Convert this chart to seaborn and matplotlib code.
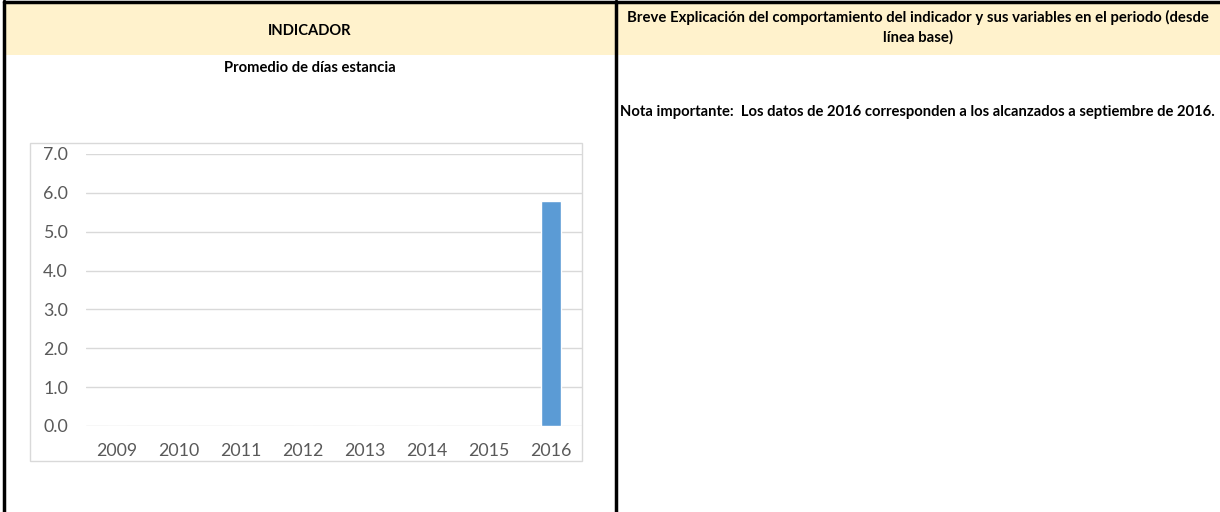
import pandas as pd
import seaborn as sns
import matplotlib.pyplot as plt
from matplotlib.patches import Rectangle
from matplotlib.lines import Line2D

years = ["2009", "2010", "2011", "2012", "2013", "2014", "2015", "2016"]
promedio_dias = [0, 0, 0, 0, 0, 0, 0, 5.8]
y_ticks = [0, 1, 2, 3, 4, 5, 6, 7]

header_left = "INDICADOR"
header_right = ("Breve Explicación del comportamiento del indicador y sus variables en el periodo (desde\n"
                "línea base)")
chart_title = "Promedio de días estancia"
nota = "Nota importante:  Los datos de 2016 corresponden a los alcanzados a septiembre de 2016."

df = pd.DataFrame({"anio": years, "valor": promedio_dias})

sns.set_theme(style="white")
plt.rcParams["font.family"] = ["Lato", "DejaVu Sans"]

W, H = 1220, 512
fig = plt.figure(figsize=(W / 100, H / 100), dpi=100)
fig.patch.set_facecolor("white")


def px(x, y):
    return x / W, 1 - y / H


# header band
fig.patches.append(Rectangle(px(4, 55), (1220 - 4) / W, 53 / H, transform=fig.transFigure,
                             facecolor="#FFF2CC", edgecolor="none", zorder=0))
# sheet borders
fig.lines.append(Line2D([4 / W, 1], [1 - 2 / H, 1 - 2 / H], transform=fig.transFigure, color="black", lw=2.5))
fig.lines.append(Line2D([4 / W, 4 / W], [0, 1 - 1 / H], transform=fig.transFigure, color="black", lw=2.5))
fig.lines.append(Line2D([616 / W, 616 / W], [0, 1 - 1 / H], transform=fig.transFigure, color="black", lw=2.5))

# chart area border
fig.patches.append(Rectangle(px(30, 461), (582 - 30) / W, (461 - 143) / H, transform=fig.transFigure,
                             facecolor="none", edgecolor="#D9D9D9", lw=1.0, zorder=1))

fig.text(310 / W, 1 - 31 / H, header_left, ha="center", va="center", fontsize=10.6, fontweight="bold", color="black")
fig.text(918 / W, 1 - 27 / H, header_right, ha="center", va="center", fontsize=10.7, fontweight="bold",
         color="black", linespacing=1.45)
fig.text(310 / W, 1 - 68 / H, chart_title, ha="center", va="center", fontsize=10.6, fontweight="bold", color="black")
fig.text(620 / W, 1 - 112 / H, nota, ha="left", va="center", fontsize=10.6, fontweight="bold", color="black")

left, right, top, bottom = 86, 582, 154, 426
ax = fig.add_axes([left / W, 1 - bottom / H, (right - left) / W, (bottom - top) / H])
sns.barplot(data=df, x="anio", y="valor", color="#5B9BD5", width=0.32, saturation=1, ax=ax, zorder=3)
ax.set_ylim(0, 7)
ax.set_xlim(-0.5, 7.5)
ax.set_yticks(y_ticks)
ax.set_yticklabels([f"{v:.1f}" for v in y_ticks])
ax.yaxis.grid(True, color="#D9D9D9", lw=1.0)
ax.set_axisbelow(True)
for s in ax.spines.values():
    s.set_visible(False)
ax.set_xlabel("")
ax.set_ylabel("")
ax.tick_params(axis="both", length=0, labelsize=12.8, labelcolor="#595959")
ax.tick_params(axis="y", pad=13)
ax.tick_params(axis="x", pad=12)
ax.set_facecolor("none")

fig.savefig("out.png", dpi=100)
